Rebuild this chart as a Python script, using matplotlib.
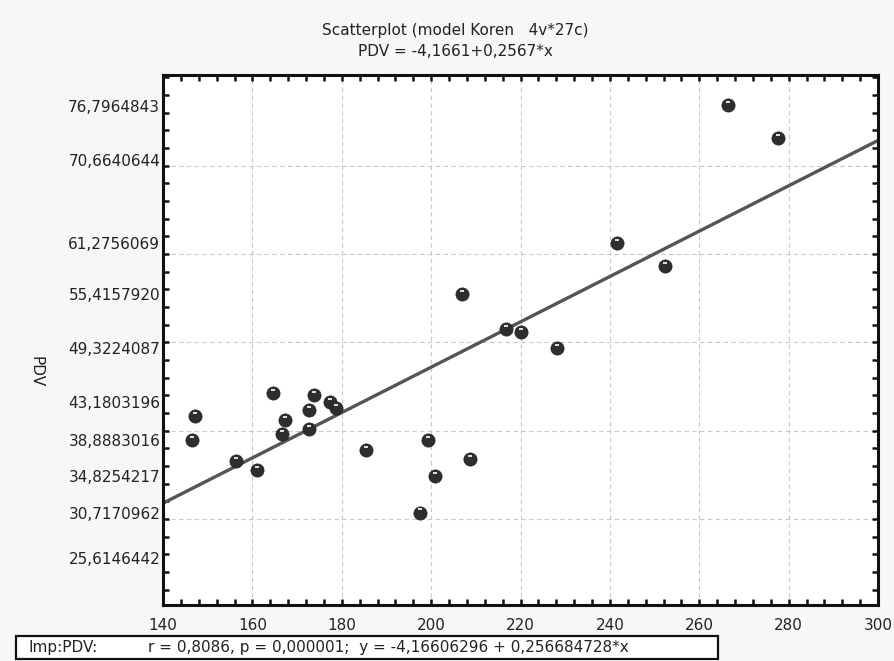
import numpy as np
import matplotlib
matplotlib.use('Agg')
import matplotlib.pyplot as plt
from matplotlib.transforms import offset_copy
from matplotlib.patches import Rectangle

# data
x_vals = [147.1, 146.6, 156.4, 161.1, 164.6, 167.2, 166.6, 172.7, 173.9, 172.7,
          177.3, 178.8, 185.4, 199.4, 208.7, 200.9, 197.4, 206.8, 216.8, 220.0,
          228.2, 241.5, 252.3, 266.4, 277.6]
y_vals = [41.6, 38.9, 36.6, 35.5, 44.3, 41.2, 39.6, 42.3, 44.0, 40.2,
          43.18, 42.6, 37.8, 38.89, 36.8, 34.83, 30.72, 55.42, 51.5, 51.1,
          49.32, 61.28, 58.6, 76.80, 73.1]

ytick_vals = [76.7964843, 70.6640644, 61.2756069, 55.4157920, 49.3224087,
              43.1803196, 38.8883016, 34.8254217, 30.7170962, 25.6146442]
ytick_labels = ['76,7964843', '70,6640644', '61,2756069', '55,4157920', '49,3224087',
                '43,1803196', '38,8883016', '34,8254217', '30,7170962', '25,6146442']
xtick_vals = [140, 160, 180, 200, 220, 240, 260, 280, 300]

intercept = -4.16606296
slope = 0.256684728

plt.rcParams['font.family'] = ['DejaVu Sans']
fs = 11

fig = plt.figure(figsize=(8.94, 6.61), dpi=100, facecolor='#f7f7f7')
ax = fig.add_axes([163 / 894, 56 / 661, 715 / 894, 530 / 661])
ax.set_facecolor('white')
ax.set_xlim(140, 300)
ax.set_ylim(20.25, 80.25)

# grid
for gx in range(160, 300, 20):
    ax.axvline(gx, color='#c8c8c8', lw=0.8, ls=(0, (4, 3)), zorder=0)
for gy in range(30, 80, 10):
    ax.axhline(gy, color='#c8c8c8', lw=0.8, ls=(0, (4, 3)), zorder=0)

# regression line
xl = np.array([140, 300])
ax.plot(xl, intercept + slope * xl, color='#555555', lw=2.4, zorder=2)

# points with a small highlight
ax.plot(x_vals, y_vals, 'o', color='#2e2e2e', ms=9.5, mec='#222222', mew=0.5, zorder=3)
hl = offset_copy(ax.transData, fig=fig, x=0, y=2.2, units='points')
ax.plot(x_vals, y_vals, '_', color='white', ms=3, mew=1.2, transform=hl, zorder=4)

# ticks
ax.set_xticks(xtick_vals)
ax.set_xticks(np.arange(140, 301, 4), minor=True)
ax.set_yticks(ytick_vals)
ax.set_yticklabels(ytick_labels)
ax.set_yticks(np.arange(22, 80.5, 2), minor=True)
ax.tick_params(axis='both', which='both', direction='in', top=True, right=True,
               width=1.8, color='#111111', labelsize=fs, labelcolor='#222222')
ax.tick_params(axis='x', which='major', length=4, pad=9)
ax.tick_params(axis='x', which='minor', length=4)
ax.tick_params(axis='y', which='major', length=0, pad=2)
ax.tick_params(axis='y', which='minor', length=4)
for sp in ax.spines.values():
    sp.set_linewidth(2.2)
    sp.set_color('#111111')

ax.set_ylabel('PDV', rotation=-90, fontsize=fs, color='#222222', labelpad=0)
ax.yaxis.set_label_coords(-0.1875, 0.44)

fig.text(455 / 894, 1 - 30 / 661, 'Scatterplot (model Koren   4v*27c)',
         ha='center', va='center', fontsize=fs, color='#222222')
fig.text(455 / 894, 1 - 52 / 661, 'PDV = -4,1661+0,2567*x',
         ha='center', va='center', fontsize=fs, color='#222222')

# statistics box at the bottom
fig.patches.append(Rectangle((16 / 894, 1 - 659 / 661), 702 / 894, 23 / 661,
                             transform=fig.transFigure, facecolor='white',
                             edgecolor='#111111', lw=1.6))
fig.text(28 / 894, 1 - 647.5 / 661, 'Imp:PDV:',
         ha='left', va='center', fontsize=fs, color='#222222')
fig.text(148 / 894, 1 - 647.5 / 661,
         'r = 0,8086, p = 0,000001;  y = -4,16606296 + 0,256684728*x',
         ha='left', va='center', fontsize=fs, color='#222222')

fig.savefig('out.png', dpi=100, facecolor=fig.get_facecolor())
